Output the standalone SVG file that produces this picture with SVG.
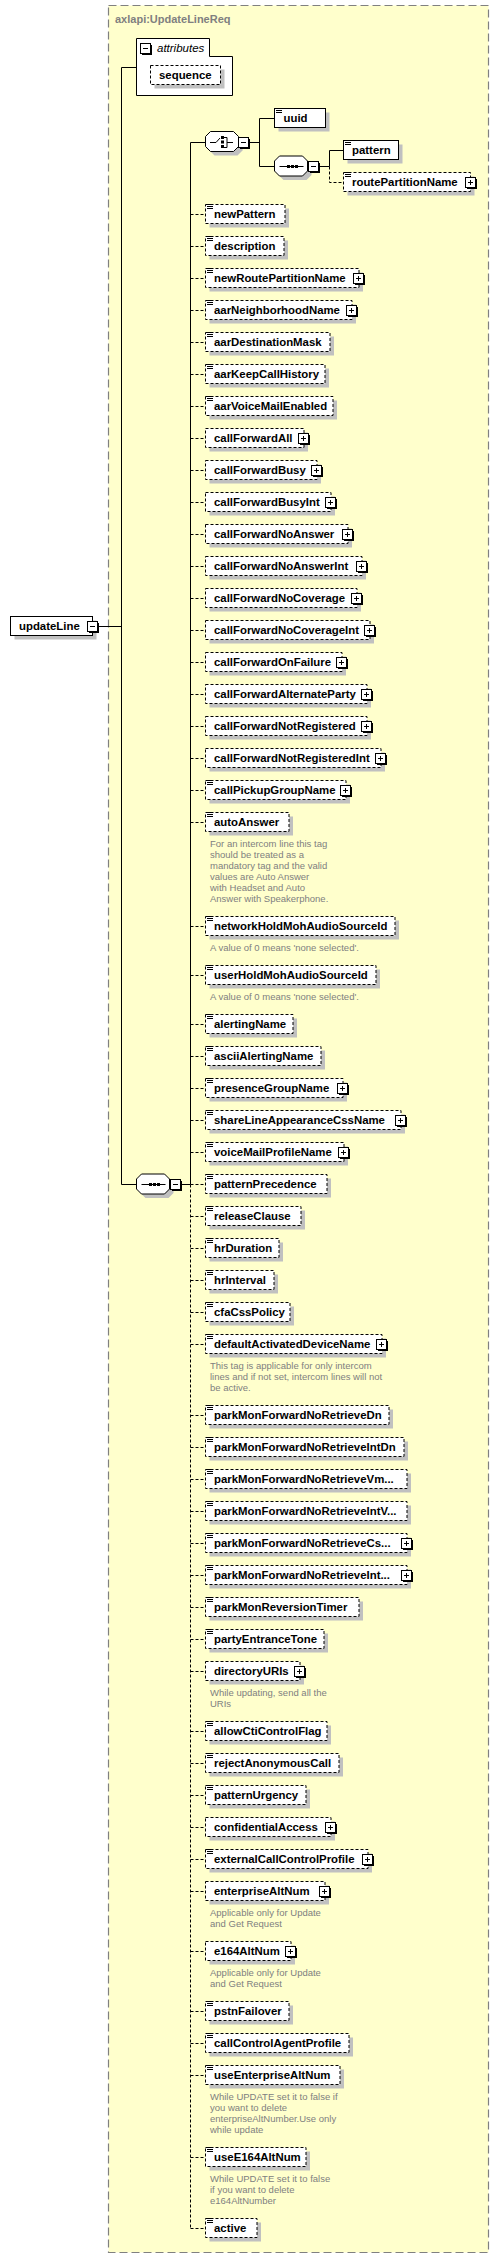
<svg xmlns="http://www.w3.org/2000/svg" width="499" height="2259" viewBox="0 0 499 2259">
<style>
.sh{fill:#c0c0c0}
.bx{fill:#fff;stroke:#000;stroke-width:1}
.d{stroke-dasharray:3,2}
.lb{font-family:"Liberation Sans",Arial,sans-serif;font-weight:bold;font-size:11.4px;fill:#000}
.doc{font-family:"Liberation Sans",Arial,sans-serif;font-size:9.5px;fill:#808080}
.cn{fill:none;stroke:#000;stroke-width:1}
.cd{fill:none;stroke:#000;stroke-width:1;stroke-dasharray:3,2}
.oc{fill:#fff;stroke:#000;stroke-width:1}
</style>
<defs>
<path id="eq" d="M0,0.5h6M0,2.5h6M0,4.5h6" fill="none" stroke="#000"/>
<g id="plus"><rect x="2" y="2" width="10" height="10" fill="#000"/><rect x="0.5" y="0.5" width="10" height="10" fill="#fff" stroke="#000"/><path d="M3,5.5h5M5.5,3v5" fill="none" stroke="#000"/></g>
<g id="minus"><rect x="2" y="2" width="10" height="10" fill="#000"/><rect x="0.5" y="0.5" width="10" height="10" fill="#fff" stroke="#000"/><path d="M3,5.5h5" fill="none" stroke="#000"/></g>
<path id="oct" d="M5,0H28L33,5V15L28,20H5L0,15V5Z"/>
</defs>

<g id="frame">
<rect x="108.5" y="5.5" width="380" height="2247" fill="#ffffcc" stroke="#808080" stroke-width="1.2" stroke-dasharray="8,4"/>
<text x="115" y="23" font-family="'Liberation Sans',Arial,sans-serif" font-weight="bold" font-size="11px" fill="#808080">axlapi:UpdateLineReq</text>
</g>

<g id="connectors">
<path class="cn" d="M99,626.5H121.5M121.5,67.5V1184.5M121.5,67.5H136.5M121.5,1184.5H136.5M181,1184.5H190.5M190.5,142.5V1184.5M190.5,142.5H205.5M250,142.5H259.5M259.5,118.5V166.5M259.5,118.5H274.5M259.5,166.5H274.5M319,166.5H329.5M329.5,150.5V166.5M329.5,150.5H343.5"/>
<path class="cd" d="M329.5,166.5V182.5H343.5M190.5,1184.5V2228.5
M190.5,214.5H205.5M190.5,246.5H205.5M190.5,278.5H205.5M190.5,310.5H205.5M190.5,342.5H205.5M190.5,374.5H205.5M190.5,406.5H205.5M190.5,438.5H205.5M190.5,470.5H205.5M190.5,502.5H205.5M190.5,534.5H205.5M190.5,566.5H205.5M190.5,598.5H205.5M190.5,630.5H205.5M190.5,662.5H205.5M190.5,694.5H205.5M190.5,726.5H205.5M190.5,758.5H205.5M190.5,790.5H205.5M190.5,822.5H205.5M190.5,926.5H205.5M190.5,975.5H205.5M190.5,1024.5H205.5M190.5,1056.5H205.5M190.5,1088.5H205.5M190.5,1120.5H205.5M190.5,1152.5H205.5M190.5,1184.5H205.5M190.5,1216.5H205.5M190.5,1248.5H205.5M190.5,1280.5H205.5M190.5,1312.5H205.5M190.5,1344.5H205.5M190.5,1415.5H205.5M190.5,1447.5H205.5M190.5,1479.5H205.5M190.5,1511.5H205.5M190.5,1543.5H205.5M190.5,1575.5H205.5M190.5,1607.5H205.5M190.5,1639.5H205.5M190.5,1671.5H205.5M190.5,1731.5H205.5M190.5,1763.5H205.5M190.5,1795.5H205.5M190.5,1827.5H205.5M190.5,1859.5H205.5M190.5,1891.5H205.5M190.5,1951.5H205.5M190.5,2011.5H205.5M190.5,2043.5H205.5M190.5,2075.5H205.5M190.5,2157.5H205.5M190.5,2228.5H205.5"/>
</g>

<g id="n-updateLine" transform="translate(0,626)">
<rect class="sh" x="14.5" y="-5.5" width="82" height="19"/>
<rect class="bx" x="10.5" y="-9.5" width="82" height="19"/>
<text class="lb" x="19" y="4">updateLine</text>
<use href="#minus" x="87" y="-5"/>
</g>

<g id="n-attributes">
<path d="M136.5,38.5H209.5V56.5H232.5V95.5H136.5Z" fill="#fff" stroke="#000"/>
<use href="#minus" x="140" y="43"/>
<text x="157" y="52" font-family="'Liberation Sans',Arial,sans-serif" font-style="italic" font-size="11.5px" fill="#000">attributes</text>
<rect class="sh" x="154.5" y="69.5" width="70" height="19"/>
<rect class="bx d" x="150.5" y="65.5" width="70" height="19"/>
<text class="lb" x="159" y="79">sequence</text>
</g>

<g id="n-sequence-main">
<use href="#oct" class="sh" x="140.5" y="1178"/>
<use href="#oct" class="oc" x="136.5" y="1174"/>
<path d="M141.5,1184.5H165.5" fill="none" stroke="#000"/>
<rect x="149" y="1183" width="3" height="3"/><rect x="153" y="1183" width="3" height="3"/><rect x="157" y="1183" width="3" height="3"/>
<use href="#minus" x="170" y="1179"/>
</g>

<g id="n-choice">
<use href="#oct" class="sh" x="209.5" y="135.5"/>
<use href="#oct" class="oc" x="205.5" y="131.5"/>
<path d="M210,142.5H216L220,138M224,137.5H227V147.5H224M227,142.5H233" fill="none" stroke="#000"/>
<rect x="221" y="136" width="3" height="3"/><rect x="221" y="140.5" width="3" height="3"/><rect x="221" y="145" width="3" height="3"/>
<use href="#minus" x="238" y="137"/>
</g>

<g id="n-uuid" transform="translate(0,118)">
<rect class="sh" x="278.5" y="-5.5" width="51" height="19"/>
<rect class="bx" x="274.5" y="-9.5" width="51" height="19"/>
<use href="#eq" x="276" y="-10"/>
<text class="lb" x="283.5" y="4">uuid</text>
</g>

<g id="n-sequence-inner">
<use href="#oct" class="sh" x="278.5" y="160"/>
<use href="#oct" class="oc" x="274.5" y="156"/>
<path d="M279.5,166.5H303.5" fill="none" stroke="#000"/>
<rect x="287" y="165" width="3" height="3"/><rect x="291" y="165" width="3" height="3"/><rect x="295" y="165" width="3" height="3"/>
<use href="#minus" x="308" y="161"/>
</g>

<g id="n-pattern" transform="translate(0,150)">
<rect class="sh" x="347.5" y="-5.5" width="55" height="19"/>
<rect class="bx" x="343.5" y="-9.5" width="55" height="19"/>
<use href="#eq" x="345" y="-10"/>
<text class="lb" x="352" y="4">pattern</text>
</g>

<g id="n-routePartitionName" transform="translate(0,182)">
<rect class="sh" x="347.5" y="-5.5" width="127" height="19"/>
<rect class="bx d" x="343.5" y="-9.5" width="127" height="19"/>
<use href="#eq" x="345" y="-10"/>
<text class="lb" x="352" y="4">routePartitionName</text>
<use href="#plus" x="465" y="-5"/>
</g>

<g id="n-newPattern" transform="translate(0,214)"><rect class="sh" x="209.5" y="-5.5" width="79.5" height="19"/><rect class="bx d" x="205.5" y="-9.5" width="79.5" height="19"/><use href="#eq" x="207" y="-10"/><text class="lb" x="214" y="4">newPattern</text></g>
<g id="n-description" transform="translate(0,246)"><rect class="sh" x="209.5" y="-5.5" width="78.5" height="19"/><rect class="bx d" x="205.5" y="-9.5" width="78.5" height="19"/><use href="#eq" x="207" y="-10"/><text class="lb" x="214" y="4">description</text></g>
<g id="n-newRoutePartitionName" transform="translate(0,278)"><rect class="sh" x="209.5" y="-5.5" width="153.5" height="19"/><rect class="bx d" x="205.5" y="-9.5" width="153.5" height="19"/><use href="#eq" x="207" y="-10"/><text class="lb" x="214" y="4">newRoutePartitionName</text><use href="#plus" x="353" y="-5"/></g>
<g id="n-aarNeighborhoodName" transform="translate(0,310)"><rect class="sh" x="209.5" y="-5.5" width="146.5" height="19"/><rect class="bx d" x="205.5" y="-9.5" width="146.5" height="19"/><use href="#eq" x="207" y="-10"/><text class="lb" x="214" y="4">aarNeighborhoodName</text><use href="#plus" x="346" y="-5"/></g>
<g id="n-aarDestinationMask" transform="translate(0,342)"><rect class="sh" x="209.5" y="-5.5" width="124.5" height="19"/><rect class="bx d" x="205.5" y="-9.5" width="124.5" height="19"/><use href="#eq" x="207" y="-10"/><text class="lb" x="214" y="4">aarDestinationMask</text></g>
<g id="n-aarKeepCallHistory" transform="translate(0,374)"><rect class="sh" x="209.5" y="-5.5" width="119.5" height="19"/><rect class="bx d" x="205.5" y="-9.5" width="119.5" height="19"/><use href="#eq" x="207" y="-10"/><text class="lb" x="214" y="4">aarKeepCallHistory</text></g>
<g id="n-aarVoiceMailEnabled" transform="translate(0,406)"><rect class="sh" x="209.5" y="-5.5" width="127.5" height="19"/><rect class="bx d" x="205.5" y="-9.5" width="127.5" height="19"/><use href="#eq" x="207" y="-10"/><text class="lb" x="214" y="4">aarVoiceMailEnabled</text></g>
<g id="n-callForwardAll" transform="translate(0,438)"><rect class="sh" x="209.5" y="-5.5" width="98.5" height="19"/><rect class="bx d" x="205.5" y="-9.5" width="98.5" height="19"/><text class="lb" x="214" y="4">callForwardAll</text><use href="#plus" x="298" y="-5"/></g>
<g id="n-callForwardBusy" transform="translate(0,470)"><rect class="sh" x="209.5" y="-5.5" width="111.5" height="19"/><rect class="bx d" x="205.5" y="-9.5" width="111.5" height="19"/><text class="lb" x="214" y="4">callForwardBusy</text><use href="#plus" x="311" y="-5"/></g>
<g id="n-callForwardBusyInt" transform="translate(0,502)"><rect class="sh" x="209.5" y="-5.5" width="125.5" height="19"/><rect class="bx d" x="205.5" y="-9.5" width="125.5" height="19"/><text class="lb" x="214" y="4">callForwardBusyInt</text><use href="#plus" x="325" y="-5"/></g>
<g id="n-callForwardNoAnswer" transform="translate(0,534)"><rect class="sh" x="209.5" y="-5.5" width="142.5" height="19"/><rect class="bx d" x="205.5" y="-9.5" width="142.5" height="19"/><text class="lb" x="214" y="4">callForwardNoAnswer</text><use href="#plus" x="342" y="-5"/></g>
<g id="n-callForwardNoAnswerInt" transform="translate(0,566)"><rect class="sh" x="209.5" y="-5.5" width="156.5" height="19"/><rect class="bx d" x="205.5" y="-9.5" width="156.5" height="19"/><text class="lb" x="214" y="4">callForwardNoAnswerInt</text><use href="#plus" x="356" y="-5"/></g>
<g id="n-callForwardNoCoverage" transform="translate(0,598)"><rect class="sh" x="209.5" y="-5.5" width="151.5" height="19"/><rect class="bx d" x="205.5" y="-9.5" width="151.5" height="19"/><text class="lb" x="214" y="4">callForwardNoCoverage</text><use href="#plus" x="351" y="-5"/></g>
<g id="n-callForwardNoCoverageInt" transform="translate(0,630)"><rect class="sh" x="209.5" y="-5.5" width="164.5" height="19"/><rect class="bx d" x="205.5" y="-9.5" width="164.5" height="19"/><text class="lb" x="214" y="4">callForwardNoCoverageInt</text><use href="#plus" x="364" y="-5"/></g>
<g id="n-callForwardOnFailure" transform="translate(0,662)"><rect class="sh" x="209.5" y="-5.5" width="136.5" height="19"/><rect class="bx d" x="205.5" y="-9.5" width="136.5" height="19"/><text class="lb" x="214" y="4">callForwardOnFailure</text><use href="#plus" x="336" y="-5"/></g>
<g id="n-callForwardAlternateParty" transform="translate(0,694)"><rect class="sh" x="209.5" y="-5.5" width="161.5" height="19"/><rect class="bx d" x="205.5" y="-9.5" width="161.5" height="19"/><text class="lb" x="214" y="4">callForwardAlternateParty</text><use href="#plus" x="361" y="-5"/></g>
<g id="n-callForwardNotRegistered" transform="translate(0,726)"><rect class="sh" x="209.5" y="-5.5" width="161.5" height="19"/><rect class="bx d" x="205.5" y="-9.5" width="161.5" height="19"/><text class="lb" x="214" y="4">callForwardNotRegistered</text><use href="#plus" x="361" y="-5"/></g>
<g id="n-callForwardNotRegisteredInt" transform="translate(0,758)"><rect class="sh" x="209.5" y="-5.5" width="175.5" height="19"/><rect class="bx d" x="205.5" y="-9.5" width="175.5" height="19"/><text class="lb" x="214" y="4">callForwardNotRegisteredInt</text><use href="#plus" x="375" y="-5"/></g>
<g id="n-callPickupGroupName" transform="translate(0,790)"><rect class="sh" x="209.5" y="-5.5" width="140.5" height="19"/><rect class="bx d" x="205.5" y="-9.5" width="140.5" height="19"/><use href="#eq" x="207" y="-10"/><text class="lb" x="214" y="4">callPickupGroupName</text><use href="#plus" x="340" y="-5"/></g>
<g id="n-autoAnswer" transform="translate(0,822)"><rect class="sh" x="209.5" y="-5.5" width="83.5" height="19"/><rect class="bx d" x="205.5" y="-9.5" width="83.5" height="19"/><use href="#eq" x="207" y="-10"/><text class="lb" x="214" y="4">autoAnswer</text>
<text class="doc" x="210" y="25">For an intercom line this tag</text><text class="doc" x="210" y="36">should be treated as a</text><text class="doc" x="210" y="47">mandatory tag and the valid</text><text class="doc" x="210" y="58">values are Auto Answer</text><text class="doc" x="210" y="69">with Headset and Auto</text><text class="doc" x="210" y="80">Answer with Speakerphone.</text></g>
<g id="n-networkHoldMohAudioSourceId" transform="translate(0,926)"><rect class="sh" x="209.5" y="-5.5" width="189.5" height="19"/><rect class="bx d" x="205.5" y="-9.5" width="189.5" height="19"/><use href="#eq" x="207" y="-10"/><text class="lb" x="214" y="4">networkHoldMohAudioSourceId</text>
<text class="doc" x="210" y="25">A value of 0 means 'none selected'.</text></g>
<g id="n-userHoldMohAudioSourceId" transform="translate(0,975)"><rect class="sh" x="209.5" y="-5.5" width="170.5" height="19"/><rect class="bx d" x="205.5" y="-9.5" width="170.5" height="19"/><use href="#eq" x="207" y="-10"/><text class="lb" x="214" y="4">userHoldMohAudioSourceId</text>
<text class="doc" x="210" y="25">A value of 0 means 'none selected'.</text></g>
<g id="n-alertingName" transform="translate(0,1024)"><rect class="sh" x="209.5" y="-5.5" width="87.5" height="19"/><rect class="bx d" x="205.5" y="-9.5" width="87.5" height="19"/><use href="#eq" x="207" y="-10"/><text class="lb" x="214" y="4">alertingName</text></g>
<g id="n-asciiAlertingName" transform="translate(0,1056)"><rect class="sh" x="209.5" y="-5.5" width="115.5" height="19"/><rect class="bx d" x="205.5" y="-9.5" width="115.5" height="19"/><use href="#eq" x="207" y="-10"/><text class="lb" x="214" y="4">asciiAlertingName</text></g>
<g id="n-presenceGroupName" transform="translate(0,1088)"><rect class="sh" x="209.5" y="-5.5" width="137.5" height="19"/><rect class="bx d" x="205.5" y="-9.5" width="137.5" height="19"/><use href="#eq" x="207" y="-10"/><text class="lb" x="214" y="4">presenceGroupName</text><use href="#plus" x="337" y="-5"/></g>
<g id="n-shareLineAppearanceCssName" transform="translate(0,1120)"><rect class="sh" x="209.5" y="-5.5" width="195.5" height="19"/><rect class="bx d" x="205.5" y="-9.5" width="195.5" height="19"/><use href="#eq" x="207" y="-10"/><text class="lb" x="214" y="4">shareLineAppearanceCssName</text><use href="#plus" x="395" y="-5"/></g>
<g id="n-voiceMailProfileName" transform="translate(0,1152)"><rect class="sh" x="209.5" y="-5.5" width="138.5" height="19"/><rect class="bx d" x="205.5" y="-9.5" width="138.5" height="19"/><use href="#eq" x="207" y="-10"/><text class="lb" x="214" y="4">voiceMailProfileName</text><use href="#plus" x="338" y="-5"/></g>
<g id="n-patternPrecedence" transform="translate(0,1184)"><rect class="sh" x="209.5" y="-5.5" width="121.5" height="19"/><rect class="bx d" x="205.5" y="-9.5" width="121.5" height="19"/><use href="#eq" x="207" y="-10"/><text class="lb" x="214" y="4">patternPrecedence</text></g>
<g id="n-releaseClause" transform="translate(0,1216)"><rect class="sh" x="209.5" y="-5.5" width="95.5" height="19"/><rect class="bx d" x="205.5" y="-9.5" width="95.5" height="19"/><use href="#eq" x="207" y="-10"/><text class="lb" x="214" y="4">releaseClause</text></g>
<g id="n-hrDuration" transform="translate(0,1248)"><rect class="sh" x="209.5" y="-5.5" width="73.5" height="19"/><rect class="bx d" x="205.5" y="-9.5" width="73.5" height="19"/><use href="#eq" x="207" y="-10"/><text class="lb" x="214" y="4">hrDuration</text></g>
<g id="n-hrInterval" transform="translate(0,1280)"><rect class="sh" x="209.5" y="-5.5" width="68.5" height="19"/><rect class="bx d" x="205.5" y="-9.5" width="68.5" height="19"/><use href="#eq" x="207" y="-10"/><text class="lb" x="214" y="4">hrInterval</text></g>
<g id="n-cfaCssPolicy" transform="translate(0,1312)"><rect class="sh" x="209.5" y="-5.5" width="84.5" height="19"/><rect class="bx d" x="205.5" y="-9.5" width="84.5" height="19"/><use href="#eq" x="207" y="-10"/><text class="lb" x="214" y="4">cfaCssPolicy</text></g>
<g id="n-defaultActivatedDeviceName" transform="translate(0,1344)"><rect class="sh" x="209.5" y="-5.5" width="176.5" height="19"/><rect class="bx d" x="205.5" y="-9.5" width="176.5" height="19"/><use href="#eq" x="207" y="-10"/><text class="lb" x="214" y="4">defaultActivatedDeviceName</text><use href="#plus" x="376" y="-5"/>
<text class="doc" x="210" y="25">This tag is applicable for only intercom</text><text class="doc" x="210" y="36">lines and if not set, intercom lines will not</text><text class="doc" x="210" y="47">be active.</text></g>
<g id="n-parkMonForwardNoRetrieveDn" transform="translate(0,1415)"><rect class="sh" x="209.5" y="-5.5" width="183.5" height="19"/><rect class="bx d" x="205.5" y="-9.5" width="183.5" height="19"/><use href="#eq" x="207" y="-10"/><text class="lb" x="214" y="4">parkMonForwardNoRetrieveDn</text></g>
<g id="n-parkMonForwardNoRetrieveIntDn" transform="translate(0,1447)"><rect class="sh" x="209.5" y="-5.5" width="198.5" height="19"/><rect class="bx d" x="205.5" y="-9.5" width="198.5" height="19"/><use href="#eq" x="207" y="-10"/><text class="lb" x="214" y="4">parkMonForwardNoRetrieveIntDn</text></g>
<g id="n-parkMonForwardNoRetrieveVm" transform="translate(0,1479)"><rect class="sh" x="209.5" y="-5.5" width="201.5" height="19"/><rect class="bx d" x="205.5" y="-9.5" width="201.5" height="19"/><use href="#eq" x="207" y="-10"/><text class="lb" x="214" y="4">parkMonForwardNoRetrieveVm...</text></g>
<g id="n-parkMonForwardNoRetrieveIntV" transform="translate(0,1511)"><rect class="sh" x="209.5" y="-5.5" width="201.5" height="19"/><rect class="bx d" x="205.5" y="-9.5" width="201.5" height="19"/><use href="#eq" x="207" y="-10"/><text class="lb" x="214" y="4">parkMonForwardNoRetrieveIntV...</text></g>
<g id="n-parkMonForwardNoRetrieveCs" transform="translate(0,1543)"><rect class="sh" x="209.5" y="-5.5" width="201.5" height="19"/><rect class="bx d" x="205.5" y="-9.5" width="201.5" height="19"/><use href="#eq" x="207" y="-10"/><text class="lb" x="214" y="4">parkMonForwardNoRetrieveCs...</text><use href="#plus" x="401" y="-5"/></g>
<g id="n-parkMonForwardNoRetrieveInt" transform="translate(0,1575)"><rect class="sh" x="209.5" y="-5.5" width="201.5" height="19"/><rect class="bx d" x="205.5" y="-9.5" width="201.5" height="19"/><use href="#eq" x="207" y="-10"/><text class="lb" x="214" y="4">parkMonForwardNoRetrieveInt...</text><use href="#plus" x="401" y="-5"/></g>
<g id="n-parkMonReversionTimer" transform="translate(0,1607)"><rect class="sh" x="209.5" y="-5.5" width="153.5" height="19"/><rect class="bx d" x="205.5" y="-9.5" width="153.5" height="19"/><use href="#eq" x="207" y="-10"/><text class="lb" x="214" y="4">parkMonReversionTimer</text></g>
<g id="n-partyEntranceTone" transform="translate(0,1639)"><rect class="sh" x="209.5" y="-5.5" width="118.5" height="19"/><rect class="bx d" x="205.5" y="-9.5" width="118.5" height="19"/><use href="#eq" x="207" y="-10"/><text class="lb" x="214" y="4">partyEntranceTone</text></g>
<g id="n-directoryURIs" transform="translate(0,1671)"><rect class="sh" x="209.5" y="-5.5" width="94.5" height="19"/><rect class="bx d" x="205.5" y="-9.5" width="94.5" height="19"/><text class="lb" x="214" y="4">directoryURIs</text><use href="#plus" x="294" y="-5"/>
<text class="doc" x="210" y="25">While updating, send all the</text><text class="doc" x="210" y="36">URIs</text></g>
<g id="n-allowCtiControlFlag" transform="translate(0,1731)"><rect class="sh" x="209.5" y="-5.5" width="121.5" height="19"/><rect class="bx d" x="205.5" y="-9.5" width="121.5" height="19"/><use href="#eq" x="207" y="-10"/><text class="lb" x="214" y="4">allowCtiControlFlag</text></g>
<g id="n-rejectAnonymousCall" transform="translate(0,1763)"><rect class="sh" x="209.5" y="-5.5" width="133.5" height="19"/><rect class="bx d" x="205.5" y="-9.5" width="133.5" height="19"/><use href="#eq" x="207" y="-10"/><text class="lb" x="214" y="4">rejectAnonymousCall</text></g>
<g id="n-patternUrgency" transform="translate(0,1795)"><rect class="sh" x="209.5" y="-5.5" width="100.5" height="19"/><rect class="bx d" x="205.5" y="-9.5" width="100.5" height="19"/><use href="#eq" x="207" y="-10"/><text class="lb" x="214" y="4">patternUrgency</text></g>
<g id="n-confidentialAccess" transform="translate(0,1827)"><rect class="sh" x="209.5" y="-5.5" width="125.5" height="19"/><rect class="bx d" x="205.5" y="-9.5" width="125.5" height="19"/><text class="lb" x="214" y="4">confidentialAccess</text><use href="#plus" x="325" y="-5"/></g>
<g id="n-externalCallControlProfile" transform="translate(0,1859)"><rect class="sh" x="209.5" y="-5.5" width="162.5" height="19"/><rect class="bx d" x="205.5" y="-9.5" width="162.5" height="19"/><use href="#eq" x="207" y="-10"/><text class="lb" x="214" y="4">externalCallControlProfile</text><use href="#plus" x="362" y="-5"/></g>
<g id="n-enterpriseAltNum" transform="translate(0,1891)"><rect class="sh" x="209.5" y="-5.5" width="119.5" height="19"/><rect class="bx d" x="205.5" y="-9.5" width="119.5" height="19"/><text class="lb" x="214" y="4">enterpriseAltNum</text><use href="#plus" x="319" y="-5"/>
<text class="doc" x="210" y="25">Applicable only for Update</text><text class="doc" x="210" y="36">and Get Request</text></g>
<g id="n-e164AltNum" transform="translate(0,1951)"><rect class="sh" x="209.5" y="-5.5" width="85.5" height="19"/><rect class="bx d" x="205.5" y="-9.5" width="85.5" height="19"/><text class="lb" x="214" y="4">e164AltNum</text><use href="#plus" x="285" y="-5"/>
<text class="doc" x="210" y="25">Applicable only for Update</text><text class="doc" x="210" y="36">and Get Request</text></g>
<g id="n-pstnFailover" transform="translate(0,2011)"><rect class="sh" x="209.5" y="-5.5" width="83.5" height="19"/><rect class="bx d" x="205.5" y="-9.5" width="83.5" height="19"/><use href="#eq" x="207" y="-10"/><text class="lb" x="214" y="4">pstnFailover</text></g>
<g id="n-callControlAgentProfile" transform="translate(0,2043)"><rect class="sh" x="209.5" y="-5.5" width="143.5" height="19"/><rect class="bx d" x="205.5" y="-9.5" width="143.5" height="19"/><use href="#eq" x="207" y="-10"/><text class="lb" x="214" y="4">callControlAgentProfile</text></g>
<g id="n-useEnterpriseAltNum" transform="translate(0,2075)"><rect class="sh" x="209.5" y="-5.5" width="134.5" height="19"/><rect class="bx d" x="205.5" y="-9.5" width="134.5" height="19"/><use href="#eq" x="207" y="-10"/><text class="lb" x="214" y="4">useEnterpriseAltNum</text>
<text class="doc" x="210" y="25">While UPDATE set it to false if</text><text class="doc" x="210" y="36">you want to delete</text><text class="doc" x="210" y="47">enterpriseAltNumber.Use only</text><text class="doc" x="210" y="58">while update</text></g>
<g id="n-useE164AltNum" transform="translate(0,2157)"><rect class="sh" x="209.5" y="-5.5" width="100.5" height="19"/><rect class="bx d" x="205.5" y="-9.5" width="100.5" height="19"/><use href="#eq" x="207" y="-10"/><text class="lb" x="214" y="4">useE164AltNum</text>
<text class="doc" x="210" y="25">While UPDATE set it to false</text><text class="doc" x="210" y="36">if you want to delete</text><text class="doc" x="210" y="47">e164AltNumber</text></g>
<g id="n-active" transform="translate(0,2228)"><rect class="sh" x="209.5" y="-5.5" width="51.5" height="19"/><rect class="bx d" x="205.5" y="-9.5" width="51.5" height="19"/><use href="#eq" x="207" y="-10"/><text class="lb" x="214" y="4">active</text></g>
</svg>
